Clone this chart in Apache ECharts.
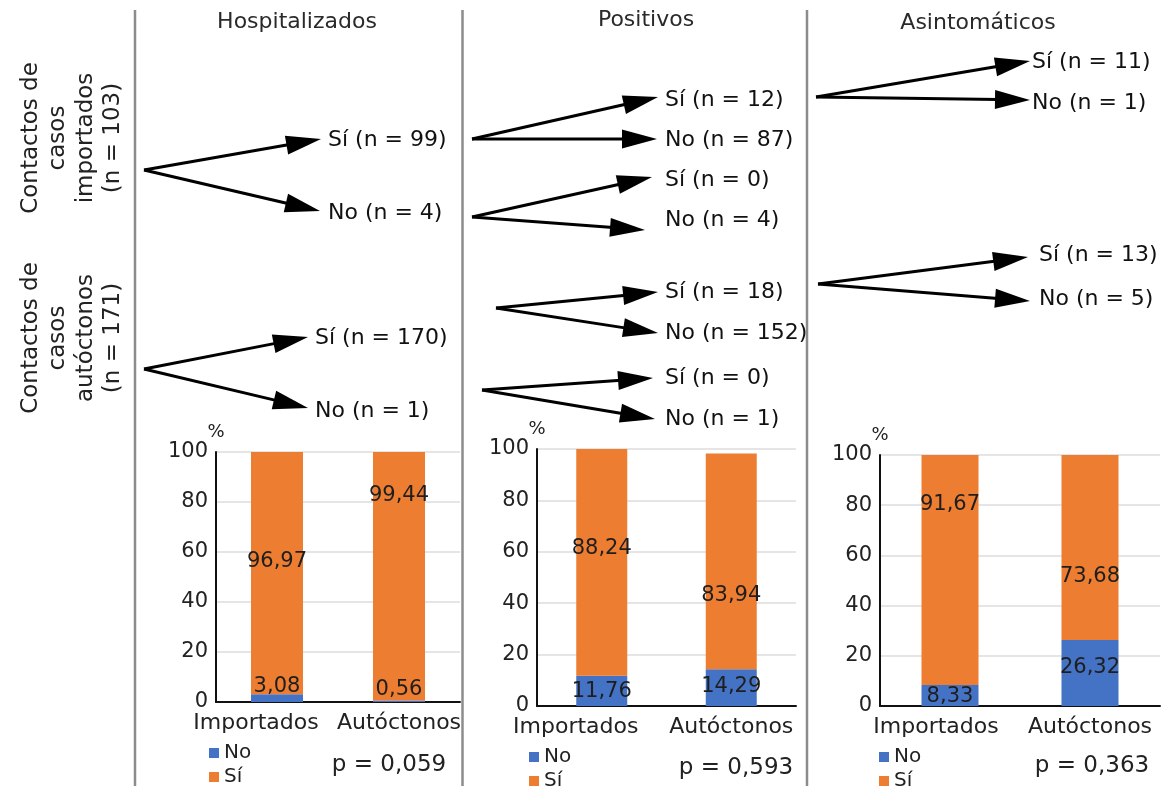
<!DOCTYPE html>
<html>
<head>
<meta charset="utf-8">
<script src="https://cdn.jsdelivr.net/npm/echarts@6/dist/echarts.min.js"></script>
<style>
  html, body { margin: 0; padding: 0; background: #fff; }
  #chart { width: 1162px; height: 790px; }
</style>
</head>
<body>
<div id="chart"></div>
<script>
// ---- data ----
const panelTitles = ['Hospitalizados', 'Positivos', 'Asintomáticos'];
const groups = ['Importados', 'Autóctonos'];
const seriesNames = ['No', 'Sí'];
const contactGroups = ['Contactos de\ncasos\nimportados', 'Contactos de\ncasos\nautóctonos'];
const contactTotals = [103, 171];

// branch counts, each pair is [Sí, No]
const hospCounts = [[99, 4], [170, 1]];
const posCounts = [[12, 87], [0, 4], [18, 152], [0, 1]];
const asinCounts = [[11, 1], [13, 5]];

// percentages per contact origin (Importados, Autóctonos)
const hospNo = [3.08, 0.56];
const hospSi = [96.97, 99.44];
const posNo = [11.76, 14.29];
const posSi = [88.24, 83.94];
const asinNo = [8.33, 26.32];
const asinSi = [91.67, 73.68];

const pValues = ['0,059', '0,593', '0,363'];
const yMin = 0, yMax = 100, yStep = 20;

// ---- styling / layout ----
const FONT = 'DejaVu Sans';
const BLUE = '#4472C4';
const ORANGE = '#ED7D31';
const INK = '#1e1e1e';

const panels = [
  { grid: { left: 216, right: 702, top: 452, bottom: 88 }, barWidth: 52, nameGap: 9,
    no: hospNo, si: hospSi, noOff: [-11.5, -11.3], siOff: [-11.4, -81], impPad: 42,
    legend: { left: 209, top: 743 }, p: [389, 765] },
  { grid: { left: 537, right: 366, top: 449, bottom: 84 }, barWidth: 51, nameGap: 6,
    no: posNo, si: posSi, noOff: [1, -1], siOff: [-14, 34], impPad: 52,
    legend: { left: 529, top: 747 }, p: [736, 768] },
  { grid: { left: 880, right: 2, top: 455, bottom: 84 }, barWidth: 57, nameGap: 5,
    no: asinNo, si: asinSi, noOff: [1, -5], siOff: [-65, 29], impPad: 28,
    legend: { left: 879, top: 747 }, p: [1092, 766] }
];

// tree diagram geometry: branch origin, arrow tips and label anchors
const treeLayout = [
  { counts: hospCounts[0], origin: [144, 170], tips: [[321, 139], [320, 211]], text: [[328, 140], [328, 213]] },
  { counts: hospCounts[1], origin: [144, 369], tips: [[308, 337], [308, 408]], text: [[315, 338], [315, 411]] },
  { counts: posCounts[0], origin: [472, 139], tips: [[658, 97], [657, 139]], text: [[665, 100], [665, 140]] },
  { counts: posCounts[1], origin: [472, 217], tips: [[652, 177], [645, 230]], text: [[665, 180], [665, 220]] },
  { counts: posCounts[2], origin: [496, 308], tips: [[658, 292], [658, 333]], text: [[665, 292], [665, 333]] },
  { counts: posCounts[3], origin: [482, 390], tips: [[653, 378], [655, 419]], text: [[665, 378], [665, 419]] },
  { counts: asinCounts[0], origin: [816, 97], tips: [[1030, 61], [1030, 100]], text: [[1032, 62], [1032, 103]] },
  { counts: asinCounts[1], origin: [818, 284], tips: [[1028, 257], [1030, 301]], text: [[1039, 255], [1039, 299]] }
];
const titlePos = [[297, 22], [646, 20], [978, 23]];
const contactPos = [[72, 138], [72, 338]];
const dividers = [135, 462.5, 807];

function fmt(v) { return v.toFixed(2).replace('.', ','); }

function arrow(x0, y0, x1, y1) {
  const dx = x1 - x0, dy = y1 - y0, len = Math.hypot(dx, dy);
  const ux = dx / len, uy = dy / len;
  const L = 35, W = 9.5;
  const bx = x1 - ux * L, by = y1 - uy * L;
  return [
    { type: 'line', shape: { x1: x0, y1: y0, x2: bx + ux * 3, y2: by + uy * 3 },
      style: { stroke: '#000', lineWidth: 3 } },
    { type: 'polygon', shape: { points: [[x1, y1], [bx - uy * W, by + ux * W], [bx + uy * W, by - ux * W]] },
      style: { fill: '#000' } }
  ];
}

const graphic = [];
dividers.forEach(x => graphic.push({
  type: 'line', shape: { x1: x, y1: 10, x2: x, y2: 786 },
  style: { stroke: '#8c8c8c', lineWidth: 2.5 }
}));
panelTitles.forEach((t, i) => graphic.push({
  type: 'text', x: titlePos[i][0], y: titlePos[i][1],
  style: { text: t, align: 'center', verticalAlign: 'middle', fontSize: 22, fontFamily: FONT, fill: '#2a2a2a' }
}));
contactGroups.forEach((t, i) => graphic.push({
  type: 'text', x: contactPos[i][0], y: contactPos[i][1], rotation: Math.PI / 2,
  style: { text: t + '\n(n = ' + contactTotals[i] + ')', align: 'center', verticalAlign: 'middle',
           fontSize: 23, lineHeight: 27.5, fontFamily: FONT, fill: '#222' }
}));
treeLayout.forEach(node => {
  node.tips.forEach((tip, k) => {
    arrow(node.origin[0], node.origin[1], tip[0], tip[1]).forEach(g => graphic.push(g));
    graphic.push({
      type: 'text', x: node.text[k][0], y: node.text[k][1],
      style: { text: seriesNames[1 - k] + ' (n = ' + node.counts[k] + ')', align: 'left', verticalAlign: 'middle',
               fontSize: 22, fontFamily: FONT, fill: '#111' }
    });
  });
});
panels.forEach((pn, i) => graphic.push({
  type: 'text', x: pn.p[0], y: pn.p[1],
  style: { text: 'p = ' + pValues[i], align: 'center', verticalAlign: 'middle', fontSize: 23, fontFamily: FONT, fill: '#222' }
}));

const grids = [], xAxes = [], yAxes = [], series = [], legends = [];
panels.forEach((pn, i) => {
  grids.push(Object.assign({ outerBoundsMode: 'none', containLabel: false }, pn.grid));
  xAxes.push({
    type: 'category', gridIndex: i, data: groups,
    axisLine: { lineStyle: { color: '#111', width: 2 } },
    axisTick: { show: false },
    axisLabel: {
      interval: 0, margin: 10, color: '#222', fontSize: 22, fontFamily: FONT,
      formatter: v => v === groups[0] ? '{imp|' + v + '}' : '{aut|' + v + '}',
      rich: {
        imp: { fontSize: 22, fontFamily: FONT, color: '#222', padding: [0, pn.impPad, 0, 0] },
        aut: { fontSize: 22, fontFamily: FONT, color: '#222' }
      }
    }
  });
  yAxes.push({
    type: 'value', gridIndex: i, min: yMin, max: yMax, interval: yStep,
    name: '%', nameLocation: 'end', nameGap: pn.nameGap,
    nameTextStyle: { fontSize: 18, fontFamily: FONT, color: '#222', align: 'center' },
    axisLine: { show: true, lineStyle: { color: '#111', width: 2 } },
    axisTick: { show: false },
    axisLabel: { margin: 8, color: '#222', fontSize: 21, fontFamily: FONT },
    splitLine: { lineStyle: { color: '#dcdcdc', width: 1.5 } }
  });
  const mk = (vals, offs) => vals.map((v, k) => ({ value: v, label: { offset: [0, offs[k]] } }));
  const base = {
    type: 'bar', xAxisIndex: i, yAxisIndex: i, stack: 'panel' + i, barWidth: pn.barWidth,
    label: { show: true, position: 'inside', color: INK, fontSize: 21, fontFamily: FONT,
             formatter: p => fmt(p.value) }
  };
  series.push(Object.assign({}, base, { name: seriesNames[0], itemStyle: { color: BLUE }, data: mk(pn.no, pn.noOff) }));
  series.push(Object.assign({}, base, { name: seriesNames[1], itemStyle: { color: ORANGE }, data: mk(pn.si, pn.siOff) }));
  legends.push({
    data: seriesNames, orient: 'vertical', left: pn.legend.left, top: pn.legend.top, height: 60,
    icon: 'rect', itemWidth: 10, itemHeight: 10, itemGap: 4, itemTextGap: 3, padding: 0,
    textStyle: { fontSize: 20, lineHeight: 20, fontFamily: FONT, color: '#222' }
  });
});

const chart = echarts.init(document.getElementById('chart'), null, { renderer: 'canvas' });
chart.setOption({
  animation: false,
  backgroundColor: '#fff',
  textStyle: { fontFamily: FONT },
  grid: grids, xAxis: xAxes, yAxis: yAxes, legend: legends, series: series,
  graphic: graphic
});
</script>
</body>
</html>
